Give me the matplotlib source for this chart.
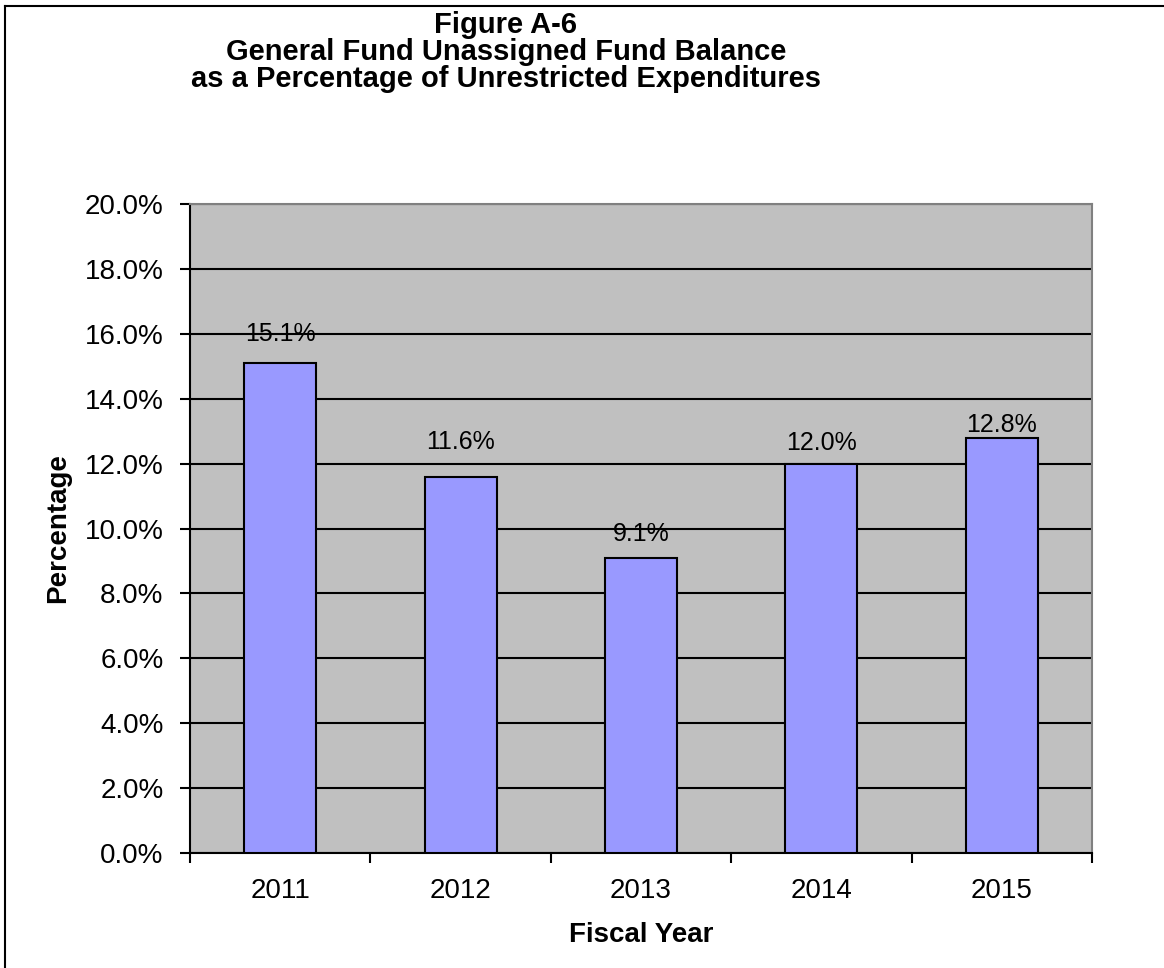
"""Figure A-6: General Fund unassigned fund balance as % of unrestricted expenditures."""

import matplotlib

matplotlib.use("Agg")
import matplotlib.pyplot as plt
from matplotlib.lines import Line2D
from matplotlib.ticker import FixedLocator, FuncFormatter

plt.rcParams["font.family"] = ["Liberation Sans", "DejaVu Sans"]

years = ["2011", "2012", "2013", "2014", "2015"]
balance_pct = [15.1, 11.6, 9.1, 12.0, 12.8]
value_labels = ["15.1%", "11.6%", "9.1%", "12.0%", "12.8%"]

# label offsets above bar top, in pixels (Excel placement is uneven)
label_offsets = [29, 35, 24, 21, 13]

BAR_COLOR = "#9999FF"
PLOT_BG = "#C0C0C0"

fig = plt.figure(figsize=(11.64, 9.68), dpi=100)
ax = fig.add_axes([190 / 1164, 1 - 853 / 968, 902 / 1164, 649 / 968])
ax.set_facecolor(PLOT_BG)

x = list(range(len(years)))
ax.bar(x, balance_pct, width=0.4, color=BAR_COLOR, edgecolor="black",
       linewidth=1.5, zorder=3)

for xi, val, lab, off in zip(x, balance_pct, value_labels, label_offsets):
    ax.annotate(lab, (xi, val), xytext=(0, off), textcoords="offset pixels",
                ha="center", va="center", fontsize=18, zorder=4)

ax.set_xlim(-0.5, len(years) - 0.5)
ax.set_ylim(0, 20)
ax.yaxis.set_major_locator(FixedLocator([i * 2 for i in range(11)]))
ax.yaxis.set_major_formatter(FuncFormatter(lambda v, _: f"{v:.1f}%"))
ax.grid(axis="y", color="black", linewidth=1.5, zorder=1)
ax.set_axisbelow(True)

ax.set_xticks(x)
ax.set_xticklabels(years)
ax.xaxis.set_minor_locator(FixedLocator([i - 0.5 for i in range(len(years) + 1)]))
ax.tick_params(axis="x", which="major", length=0, pad=18, labelsize=20)
ax.tick_params(axis="x", which="minor", length=7, width=1.5, direction="out")
ax.tick_params(axis="y", length=7, width=1.5, direction="out", pad=12, labelsize=20)

for side in ("left", "bottom"):
    ax.spines[side].set_color("black")
    ax.spines[side].set_linewidth(1.5)
for side in ("top", "right"):
    ax.spines[side].set_color("#808080")
    ax.spines[side].set_linewidth(1.5)

ax.set_xlabel("Fiscal Year", fontsize=20, fontweight="bold")
ax.set_ylabel("Percentage", fontsize=20, fontweight="bold")
ax.xaxis.set_label_coords(0.5, 1 - (935 - 204) / 649)
ax.yaxis.set_label_coords((58 - 190) / 902, 0.5)
ax.xaxis.label.set_va("center")
ax.yaxis.label.set_va("center")

fig.text(506 / 1164, 1 - 52 / 968,
         "Figure A-6\nGeneral Fund Unassigned Fund Balance\n"
         "as a Percentage of Unrestricted Expenditures",
         ha="center", va="center", fontsize=21, fontweight="bold",
         linespacing=0.94)

# page border (left and top edges only, the rest is cropped off)
fig.add_artist(Line2D([5 / 1164, 5 / 1164], [0, 1 - 6 / 968], color="black",
                      linewidth=1.5, transform=fig.transFigure))
fig.add_artist(Line2D([5 / 1164, 1], [1 - 6 / 968, 1 - 6 / 968], color="black",
                      linewidth=1.5, transform=fig.transFigure))

fig.savefig("out.png", dpi=100, facecolor="white")
